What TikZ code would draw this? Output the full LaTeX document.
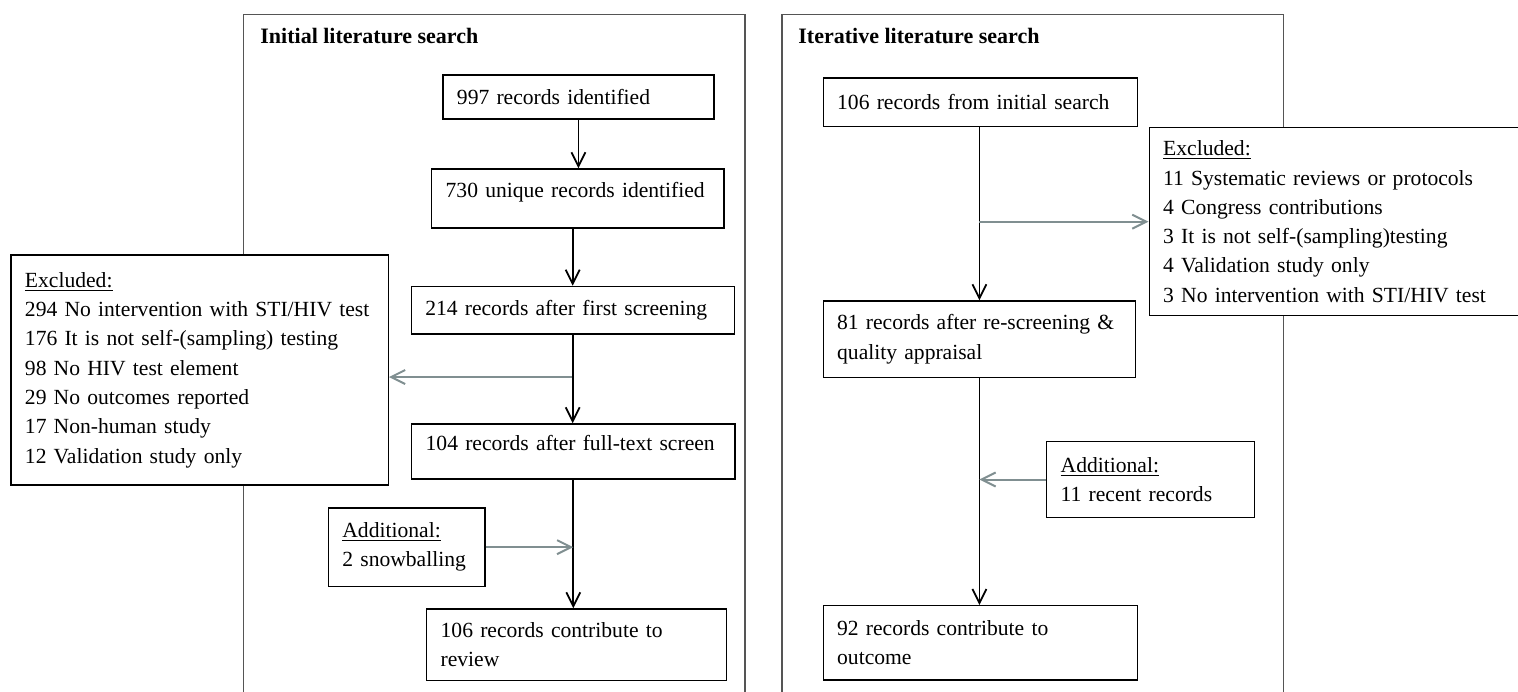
\documentclass[tikz,border=0pt]{standalone}
\usepackage{fontspec}
\setmainfont{Liberation Serif}
\usetikzlibrary{arrows.meta}
\definecolor{arrowgray}{RGB}{128,143,145}
\definecolor{framegray}{RGB}{85,85,85}
\newcommand\boxfont{\fontsize{10.8pt}{14.65pt}\selectfont\hyphenpenalty=10000\relax}

\begin{document}
\begin{tikzpicture}[x=0.5pt, y=-0.5pt,
    bx/.style={draw, fill=white, line width=0.65pt, anchor=north west, align=left, inner xsep=7pt, inner ysep=0pt, font=\boxfont},
    up/.style={text depth=9pt},
    ttl/.style={anchor=west, inner sep=0pt, font=\fontsize{11pt}{14.65pt}\selectfont\bfseries},
    main/.style={-{Straight Barb[length=7pt, width=7pt]}, line width=0.9pt},
    side/.style={-{Straight Barb[length=7pt, width=7pt]}, line width=1pt, draw=arrowgray},
    frame/.style={draw=framegray, line width=0.75pt}]
    \useasboundingbox (0,0) rectangle (1518,691);

    \draw[frame] (243.5,14.3) rectangle (745,710);
    \draw[frame] (781.8,14.3) rectangle (1283.6,710);

    \node[ttl] (titleA) at (260,35.5) {Initial literature search};
    \node[ttl] (titleB) at (798,36) {Iterative literature search};

    \node[bx, text width=121.5pt, minimum height=22pt] (rec997) at (442.3,74.3) {997 records identified};
    \node[bx, up, text width=132.15pt, minimum height=29.5pt] (rec730) at (431,168.3) {730 unique records identified};
    \node[bx, text width=147.45pt, minimum height=23.8pt] (rec214) at (410.6,285.7) {214 records after first screening};
    \node[bx, up, text width=147.65pt, minimum height=27.5pt] (rec104) at (411,423.3) {104 records after full-text screen};
    \node[bx, text width=135.85pt, minimum height=35.85pt] (rec106) at (426,608.3) {106 records contribute to\\review};
    \node[bx, text width=174.7pt, minimum height=115pt] (exclA) at (10.3,254.3) {\underline{Excluded:}\\294 No intervention with STI/HIV test\\176 It is not self-(sampling) testing\\98 No HIV test element\\29 No outcomes reported\\17 Non-human study\\12 Validation study only};
    \node[bx, text width=64.3pt, minimum height=39.2pt] (addA) at (327.7,507.3) {\underline{Additional:}\\2 snowballing};

    \node[bx, text width=143.15pt, minimum height=24.35pt] (rec106i) at (822.5,77.3) {106 records from initial search};
    \node[bx, text width=200pt, minimum height=94pt] (exclB) at (1148.5,127) {\underline{Excluded:}\\11 Systematic reviews or protocols\\4 Congress contributions\\3 It is not self-(sampling)testing\\4 Validation study only\\3 No intervention with STI/HIV test};
    \node[bx, text width=142.25pt, minimum height=38.2pt] (rec81) at (822.5,300.3) {81 records after re-screening \&\\quality appraisal};
    \node[bx, text width=89.8pt, minimum height=38.15pt] (addB) at (1046,440.7) {\underline{Additional:}\\11 recent records};
    \node[bx, text width=143.15pt, minimum height=37.15pt] (rec92) at (822.5,605) {92 records contribute to\\outcome};

    \coordinate (splitA) at (572,377);

    \draw[main] (rec997.south) -- (rec997.south |- rec730.north);
    \draw[main] (rec730.south -| rec214.north) -- (rec214.north);
    \draw[main] (rec214.south) -- (rec214.south |- rec104.north);
    \draw[main] (rec104.south) -- (rec104.south |- rec106.north);
    \draw[side] (splitA) -- (splitA -| exclA.east);
    \draw[side] (addA.east) -- (addA.east -| rec104.south);

    \draw[main] (rec106i.south -| rec81.north) -- (rec81.north);
    \draw[main] (rec81.south) -- (rec81.south |- rec92.north);
    \draw[side] (exclB.west -| rec81.north) -- (exclB.west);
    \draw[side] (addB.west) -- (addB.west -| rec81.south);
\end{tikzpicture}
\end{document}
